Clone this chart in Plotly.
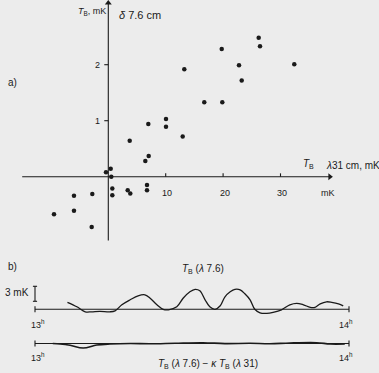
import plotly.graph_objects as go

# ---------- panel a data (mK) ----------
a_x = [6.97, 10.05, 10.05, 13.24, 16.72, 19.76, 19.86, 22.77, 23.24, 26.2, 26.43, 32.4,
       12.96, 3.73, 7.04, 6.45, 0.42, -0.4, 0.52, 0.7, 0.7, 3.38, 3.83, 6.74, 6.74,
       -2.79, -5.98, -5.98, -9.46, -2.89]
a_y = [0.94, 1.03, 0.89, 1.92, 1.33, 2.28, 1.33, 1.99, 1.72, 2.48, 2.33, 2.01,
       0.72, 0.64, 0.37, 0.28, 0.14, 0.08, 0.0, -0.21, -0.33, -0.24, -0.30, -0.15, -0.24,
       -0.31, -0.34, -0.61, -0.67, -0.90]
x_ticks = [10, 20, 30]
y_ticks = [1, 2]
x_axis_span = [-15.0, 38.6]
y_axis_span = [-1.14, 3.1]

# ---------- panel b data (minutes after 13h, mK) ----------
b_t = [6.2, 8.0, 9.6, 10.8, 12.4, 14.3, 15.3, 16.6, 18.2, 19.7, 21.0, 22.0, 23.3, 24.5,
       25.5, 27.1, 28.3, 29.6, 30.6, 31.5, 32.5, 33.4, 34.4, 35.4, 36.3, 37.3, 38.2,
       39.2, 40.1, 41.1, 42.0, 43.0, 44.3, 45.5, 47.1, 48.7, 50.0, 51.3, 52.6, 53.5,
       54.5, 55.7, 56.7, 58.0, 58.9]
b_top = [1.4, 0.5, -0.5, -0.5, -0.4, -0.5, -0.3, 0.9, 1.9, 2.7, 2.9, 2.2, 0.9, 0.0,
         -0.1, 0.5, 2.2, 3.5, 4.0, 3.7, 1.9, 0.5, 0.0, 0.7, 2.5, 3.5, 4.0,
         3.9, 3.1, 1.9, 0.0, -0.7, -0.8, -0.6, -0.1, 0.9, 1.2, 0.9, 0.4, 0.4,
         1.1, 1.5, 1.4, 1.1, 0.7]
b2_t = [3.4, 4.8, 6.7, 9.2, 11.8, 14.3, 18.2, 22.0, 26.8, 32.1, 36.3, 41.1, 44.9,
        48.7, 53.8, 56.4, 59.2]
b_bot = [0.0, -0.1, -0.36, -0.9, -0.3, -0.1, 0.0, -0.06, 0.06, 0.16, -0.02, 0.04,
         -0.06, 0.1, 0.16, -0.1, -0.1]
time_labels = ["13<sup>h</sup>", "14<sup>h</sup>"]
time_pos = [0, 60]
scale_bar = [1.6, 4.6]   # 3 mK

W, H = 379, 373
FONT = "Liberation Sans, Arial, sans-serif"
INK = "#1a1a1a"
BG = "#ececec"

# pixel mapping for axis ranges
ax_px0, ax_scale = 108.3, 5.74
ay_py0, ay_scale = 176.7, 56.0
bx_px0, bx_scale = 35.0, 314 / 60
b1_py0, b2_py0, by_scale = 309.3, 343.5, 5.0

fig = go.Figure()
fig.add_trace(go.Scatter(x=a_x, y=a_y, mode="markers", xaxis="x", yaxis="y",
                         marker=dict(color=INK, size=4.5), hoverinfo="skip"))
# axis arrowheads
fig.add_trace(go.Scatter(x=[x_axis_span[1], 0], y=[0, y_axis_span[1]], mode="markers",
                         xaxis="x", yaxis="y", hoverinfo="skip",
                         marker=dict(color=INK, size=6, symbol=["triangle-right", "triangle-up"])))
fig.add_trace(go.Scatter(x=b_t, y=b_top, mode="lines", xaxis="x2", yaxis="y2",
                         line=dict(color=INK, width=1.3, shape="spline"), hoverinfo="skip"))
fig.add_trace(go.Scatter(x=b2_t, y=b_bot, mode="lines", xaxis="x3", yaxis="y3",
                         line=dict(color=INK, width=1.6, shape="spline"), hoverinfo="skip"))

hid = dict(visible=False, fixedrange=True, showgrid=False, zeroline=False)
fig.update_layout(
    width=W, height=H, margin=dict(l=0, r=0, t=0, b=0),
    paper_bgcolor=BG, plot_bgcolor="rgba(0,0,0,0)", showlegend=False,
    xaxis=dict(domain=[0, 1], anchor="y",
               range=[-ax_px0 / ax_scale, (W - ax_px0) / ax_scale], **hid),
    yaxis=dict(domain=[0, 1], anchor="x",
               range=[(ay_py0 - H) / ay_scale, ay_py0 / ay_scale], **hid),
    xaxis2=dict(domain=[0, 1], anchor="y2",
                range=[-bx_px0 / bx_scale, (W - bx_px0) / bx_scale], **hid),
    yaxis2=dict(domain=[0, 1], anchor="x2",
                range=[(b1_py0 - H) / by_scale, b1_py0 / by_scale], **hid),
    xaxis3=dict(domain=[0, 1], anchor="y3",
                range=[-bx_px0 / bx_scale, (W - bx_px0) / bx_scale], **hid),
    yaxis3=dict(domain=[0, 1], anchor="x3",
                range=[(b2_py0 - H) / by_scale, b2_py0 / by_scale], **hid),
)

shapes = []
annotations = []
line = dict(color=INK, width=1.1)

# panel a axes
shapes.append(dict(type="line", xref="x", yref="y", x0=x_axis_span[0], x1=x_axis_span[1],
                   y0=0, y1=0, line=line))
shapes.append(dict(type="line", xref="x", yref="y", x0=0, x1=0,
                   y0=y_axis_span[0], y1=y_axis_span[1], line=line))
for v in x_ticks:
    shapes.append(dict(type="line", xref="x", yref="y", x0=v, x1=v, y0=0, y1=0.06, line=line))
    annotations.append(dict(x=v + 0.3, y=-0.29, xref="x", yref="y", text=str(v), showarrow=False,
                            font=dict(family=FONT, size=9, color=INK)))
annotations.append(dict(x=38.3, y=-0.29, xref="x", yref="y", text="mK", showarrow=False,
                        font=dict(family=FONT, size=9, color=INK)))
for v in y_ticks:
    shapes.append(dict(type="line", xref="x", yref="y", x0=-0.7, x1=0, y0=v, y1=v, line=line))
    annotations.append(dict(x=-1.9, y=v, xref="x", yref="y", text=str(v), showarrow=False,
                            font=dict(family=FONT, size=9, color=INK)))

def ann(px, py, text, size=10, xanchor="center"):
    annotations.append(dict(x=px / W, y=1 - py / H, xref="paper", yref="paper", text=text,
                            showarrow=False, xanchor=xanchor, yanchor="middle",
                            font=dict(family=FONT, size=size, color=INK)))

ann(92, 11, "<i>T</i><sub>B</sub>, mK", 9)
ann(117, 15, "<i>δ</i> 7.6 cm", 11, "left")
ann(301, 164, "<i>T</i><sub>B</sub>", 10, "left")
ann(324, 165, "<i>λ</i>31 cm, mK", 10, "left")
ann(6, 82, "a)", 10, "left")
ann(6, 266, "b)", 10, "left")
ann(203, 269, "<i>T</i><sub>B</sub> (<i>λ</i> 7.6)", 10)
ann(208, 364, "<i>T</i><sub>B</sub> (<i>λ</i> 7.6) − <i>κ T</i><sub>B</sub> (<i>λ</i> 31)", 10)
ann(31, 292, "3 mK", 10, "right")

# panel b baselines, end ticks, time labels
for xr, yr in (("x2", "y2"), ("x3", "y3")):
    shapes.append(dict(type="line", xref=xr, yref=yr, x0=time_pos[0], x1=time_pos[1],
                       y0=0, y1=0, line=line))
    for tp in time_pos:
        shapes.append(dict(type="line", xref=xr, yref=yr, x0=tp, x1=tp, y0=-0.6, y1=0.6, line=line))
for tp, lab in zip(time_pos, time_labels):
    dx = 0.5 if tp == time_pos[0] else -0.6
    annotations.append(dict(x=tp + dx, y=-1.3, xref="x2", yref="y2", text=lab,
                            showarrow=False, yanchor="top",
                            font=dict(family=FONT, size=9, color=INK)))
    annotations.append(dict(x=tp + dx, y=-1.1, xref="x3", yref="y3", text=lab,
                            showarrow=False, yanchor="top",
                            font=dict(family=FONT, size=9, color=INK)))

# 3 mK scale bar
shapes.append(dict(type="line", xref="x2", yref="y2", x0=0, x1=0,
                   y0=scale_bar[0], y1=scale_bar[1], line=line))
for yv in scale_bar:
    shapes.append(dict(type="line", xref="x2", yref="y2", x0=-0.4, x1=0.4, y0=yv, y1=yv, line=line))

fig.update_layout(shapes=shapes, annotations=annotations)
fig.write_html("out.html", config={"displayModeBar": False, "staticPlot": True},
               post_script="document.body.style.margin='0';document.body.style.background='%s';" % BG)
